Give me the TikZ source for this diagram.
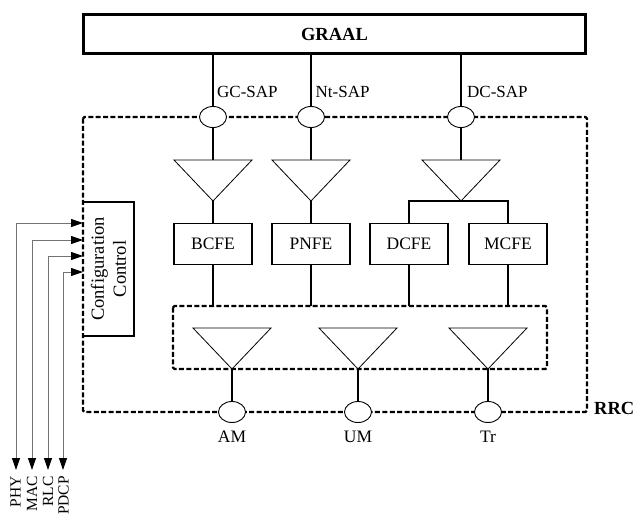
\documentclass[tikz,border=0pt]{standalone}
\usepackage{fontspec}
\setmainfont{Liberation Serif}
\usetikzlibrary{arrows.meta,shapes.geometric}
\begin{document}
\begin{tikzpicture}[x=1pt,y=-1pt,
  lbl/.style={font=\fontsize{17}{20}\selectfont, inner sep=0pt},
  sidelbl/.style={font=\fontsize{15.5}{18}\selectfont, inner sep=0pt, rotate=90, anchor=east},
  boxtxt/.style={font=\fontsize{17.5}{20}\selectfont},
  sap/.style={ellipse, draw, fill=white, minimum width=27pt, minimum height=21pt, inner sep=0pt, line width=0.9pt},
  febox/.style={draw, boxtxt, minimum width=78pt, minimum height=41pt, inner sep=0pt, line width=1.1pt},
  conn/.style={line width=1.1pt},
  dashbox/.style={line width=2.4pt, dash pattern=on 5pt off 2.4pt, rounded corners=1.5pt},
  sigline/.style={draw=black!55, line width=1pt,
     {Triangle[length=12pt,width=8pt,color=black]}-{Triangle[length=12pt,width=8pt,color=black]}},
  tri/.pic={\draw[line width=0.8pt] (-39,0) -- (39,0) -- (0,41) -- cycle;
            \coordinate (-top) at (0,0); \coordinate (-apex) at (0,41);}
]
\useasboundingbox (0,0) rectangle (638,515);

% GRAAL
\node[draw, line width=3pt, minimum width=502pt, minimum height=39pt, inner sep=0pt,
      font=\bfseries\fontsize{18.5}{21}\selectfont] (graal) at (334.5,34) {GRAAL};

% outer RRC box
\draw[dashbox] (83,117) rectangle (587,412);
\node[anchor=base west, inner sep=0pt, font=\bfseries\fontsize{18.5}{21}\selectfont] (rrc) at (594,414) {RRC};

% inner box
\coordinate (inTL) at (173,306);
\coordinate (inBR) at (547,369);
\draw[dashbox] (inTL) rectangle (inBR);

% SAPs top
\node[sap] (gc) at (213,117) {};
\node[sap] (nt) at (311,117) {};
\node[sap] (dc) at (461,117) {};
\node[lbl, anchor=west] (gcL) at (217,92) {GC-SAP};
\node[lbl, anchor=west] (ntL) at (315.5,92) {Nt-SAP};
\node[lbl, anchor=west] (dcL) at (467,92) {DC-SAP};
\draw[conn] (graal.south -| gc.north) -- (gc.north);
\draw[conn] (graal.south -| nt.north) -- (nt.north);
\draw[conn] (graal.south -| dc.north) -- (dc.north);

% top triangles
\pic (t1) at (213,160) {tri};
\pic (t2) at (311,160) {tri};
\pic (t3) at (461,160) {tri};
\draw[conn] (gc.south) -- (t1-top);
\draw[conn] (nt.south) -- (t2-top);
\draw[conn] (dc.south) -- (t3-top);

% FE boxes
\node[febox] (bcfe) at (213,244) {BCFE};
\node[febox] (pnfe) at (311,244) {PNFE};
\node[febox] (dcfe) at (409,244) {DCFE};
\node[febox] (mcfe) at (508,244) {MCFE};
\draw[conn] (t1-apex) -- (bcfe.north);
\draw[conn] (t2-apex) -- (pnfe.north);
\draw[conn] (dcfe.north) -- (dcfe.north |- t3-apex) -- (mcfe.north |- t3-apex) -- (mcfe.north);
\draw[conn] (bcfe.south) -- (bcfe.south |- inTL);
\draw[conn] (pnfe.south) -- (pnfe.south |- inTL);
\draw[conn] (dcfe.south) -- (dcfe.south |- inTL);
\draw[conn] (mcfe.south) -- (mcfe.south |- inTL);

% lower triangles
\pic (b1) at (232,328) {tri};
\pic (b2) at (358,328) {tri};
\pic (b3) at (488,328) {tri};
\node[sap] (am) at (232,412) {};
\node[sap] (um) at (358,412) {};
\node[sap] (tr) at (488,412) {};
\draw[conn] (b1-apex) -- (am.north);
\draw[conn] (b2-apex) -- (um.north);
\draw[conn] (b3-apex) -- (tr.north);
\node[lbl, font=\fontsize{17.5}{20}\selectfont] (amL) at (232,437) {AM};
\node[lbl, font=\fontsize{17.5}{20}\selectfont] (umL) at (358,437) {UM};
\node[lbl, font=\fontsize{17.5}{20}\selectfont] (trL) at (488,437) {Tr};

% configuration control
\node[minimum width=51pt, minimum height=134pt, inner sep=0pt, outer sep=0pt] (cfg) at (108.5,269) {};
\draw[conn] (cfg.north west) -- (cfg.north east) -- (cfg.south east) -- (cfg.south west);
\node[rotate=90, align=center, font=\fontsize{18.5}{22}\selectfont, inner sep=0pt] (cfgT) at (cfg.center) {Configuration\\Control};

% signal lines
\node[sidelbl] (phy) at (15.5,476) {PHY};
\node[sidelbl] (mac) at (32,476) {MAC};
\node[sidelbl] (rlc) at (48,476) {RLC};
\node[sidelbl] (pdcp) at (63.5,476) {PDCP};
\coordinate (phyE) at (16,470);
\coordinate (macE) at (32,470);
\coordinate (rlcE) at (48,470);
\coordinate (pdcpE) at (63,470);
\coordinate (phyB) at (16,223);
\coordinate (macB) at (32,240);
\coordinate (rlcB) at (48,256);
\coordinate (pdcpB) at (63,272);
\draw[sigline] (phyE) -- (phyB) -- (cfg.west |- phyB);
\draw[sigline] (macE) -- (macB) -- (cfg.west |- macB);
\draw[sigline] (rlcE) -- (rlcB) -- (cfg.west |- rlcB);
\draw[sigline] (pdcpE) -- (pdcpB) -- (cfg.west |- pdcpB);
\end{tikzpicture}
\end{document}
